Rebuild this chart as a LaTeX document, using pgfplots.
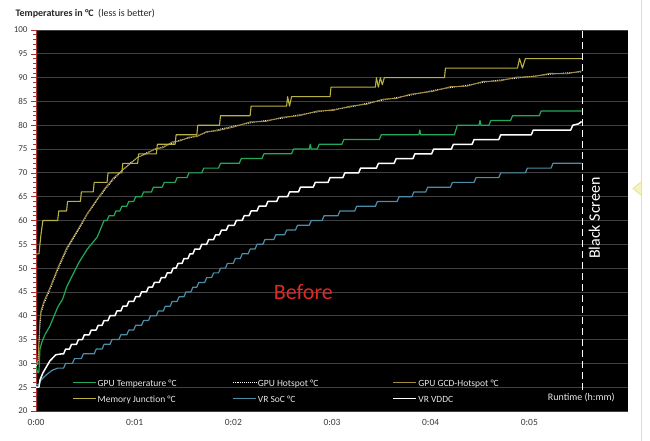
\documentclass[border=0pt]{standalone}
\usepackage{fontspec}
\setmainfont{Carlito}
\usepackage{pgfplots}
\pgfplotsset{compat=1.18}
\definecolor{gputemp}{RGB}{34,170,90}
\definecolor{gcdhot}{RGB}{165,140,60}
\definecolor{memjunc}{RGB}{185,178,65}
\definecolor{vrsoc}{RGB}{78,140,168}
\definecolor{gridc}{RGB}{64,64,64}
\definecolor{axisred}{RGB}{170,50,50}
\definecolor{axispink}{RGB}{225,120,120}
\definecolor{legtext}{RGB}{232,232,232}
\definecolor{tickc}{RGB}{60,60,60}
\definecolor{selyellow}{RGB}{238,228,130}
\definecolor{beforered}{RGB}{225,40,40}
\begin{document}
\begin{tikzpicture}[x=1pt,y=1pt]
\fill[white] (0,0) rectangle (650,441);
\path[use as bounding box] (0,0) rectangle (650,441);
\begin{axis}[
  at={(36pt,30pt)}, anchor=south west,
  scale only axis, width=592pt, height=381pt,
  xmin=0, xmax=6, ymin=20, ymax=100,
  axis background/.style={fill=black},
  axis x line*=bottom, axis y line*=left,
  x axis line style={draw=none},
  y axis line style={draw=axisred, line width=0.8pt, -},
  xtick={0,1,2,3,4,5},
  xticklabels={0:00,0:01,0:02,0:03,0:04,0:05},
  xtick style={draw=none},
  ytick={20,25,...,100},
  minor y tick num=4,
  tick align=outside,
  major tick length=5pt, minor tick length=3pt,
  ytick style={draw=axisred, line width=0.6pt},
  minor tick style={draw=axispink, line width=0.6pt},
  ymajorgrids, grid style={draw=gridc, line width=0.8pt},
  tick label style={text=tickc},
  yticklabel style={font=\fontsize{9}{10}\selectfont},
  xticklabel style={font=\fontsize{9.5}{10}\selectfont},
  /pgf/number format/assume math mode=true,
  legend columns=3,
  legend cell align=left,
  legend image code/.code={\draw[#1] (0pt,0pt) -- (23pt,0pt);},
  legend style={at={(0.0608,0.014)}, anchor=south west, draw=none, fill=none,
    inner sep=0pt, outer sep=0pt, row sep=2pt,
    font=\fontsize{9.5}{14}\selectfont,
    nodes={text=legtext, inner sep=1.5pt},
    /tikz/every odd column/.append style={column sep=0pt},
    /tikz/every even column/.append style={column sep=0pt}},
  clip=true,
  line join=round,
]
% GPU Temperature
\addplot[gputemp, line width=1.2pt] coordinates {
(0,29.5)(0.01,28.5)(0.02,28)(0.03,28.3)(0.04,33)(0.06,34.5)(0.09,36)(0.14,37.8)(0.22,41.8)(0.27,43.5)(0.31,46)(0.37,48.5)(0.43,51)(0.52,54)(0.62,56.5)(0.65,58)(0.67,59)(0.69,60)
(0.72,60)(0.74,61)(0.79,61)(0.81,62)(0.85,62)(0.87,63)(0.92,63)(0.94,64)(0.99,64)(1.01,65)
(1.07,65)(1.09,66)(1.17,66)(1.19,67)(1.28,67)(1.30,68)(1.41,68)(1.43,69)(1.53,69)(1.55,70)
(1.68,70)(1.70,71)(1.85,71)(1.87,72)(2.06,72)(2.08,73)(2.29,73)(2.31,74)(2.59,74)(2.61,75)
(2.77,75)(2.78,76)(2.79,75)(2.85,75)(2.87,76)(3.10,76)(3.12,77)(3.48,77)(3.50,78)
(3.88,78)(3.89,79)(3.90,78)(4.24,78)(4.27,80)(4.49,80)(4.50,81)(4.51,80)(4.59,80)(4.61,81)
(4.81,81)(4.83,82)(5.10,82)(5.12,83)(5.53,83)};
\addlegendentry{\makebox[133pt][l]{\strut GPU Temperature °C}}
% GPU Hotspot
\addplot[white, densely dotted, line width=0.9pt] coordinates {
(0,29.5)(0.02,30)(0.04,38)(0.05,40.5)(0.08,42.5)(0.14,45.4)(0.22,49.6)(0.31,53.8)(0.43,58)(0.52,61.3)(0.62,64.3)(0.70,66.5)(0.78,68.5)(0.87,70.4)(0.95,72)(1.03,73.2)(1.12,74.2)(1.20,74.9)(1.29,75.5)(1.38,76.2)(1.46,76.9)(1.55,77.3)(1.63,77.8)(1.73,78.5)(1.83,79)(2.00,79.8)(2.17,80.5)(2.33,81)(2.50,81.5)(2.67,82.2)(2.85,82.8)(3.01,83.3)(3.18,83.8)(3.35,84.6)(3.52,85.3)(3.65,85.8)(3.79,86.3)(4.02,87.3)(4.20,87.9)(4.37,88.4)(4.53,89)(4.70,89.5)(4.87,89.9)(5.04,90.3)(5.21,90.7)(5.38,91)(5.53,91.2)};
\addlegendentry{\makebox[133pt][l]{\strut GPU Hotspot °C}}
% GPU GCD-Hotspot
\addplot[gcdhot, line width=0.9pt] coordinates {
(0,30)(0.02,30.5)(0.04,39)(0.05,41)(0.08,43)(0.14,45.8)(0.22,50)(0.31,54.2)(0.43,58.3)(0.52,61.5)(0.62,64.5)(0.70,66.8)(0.78,68.8)(0.87,70.5)(0.95,71.8)(1.03,73.3)(1.12,74)(1.20,75)(1.29,75.3)(1.38,76.5)(1.46,76.7)(1.55,77.5)(1.63,77.6)(1.73,78.7)(1.83,78.8)(2.00,79.6)(2.17,80.7)(2.33,80.8)(2.50,81.7)(2.67,82)(2.85,83)(3.01,83.1)(3.18,84)(3.35,84.4)(3.52,85.5)(3.65,85.6)(3.79,86.5)(4.02,87.1)(4.20,88.1)(4.37,88.2)(4.53,89.2)(4.70,89.3)(4.87,90.1)(5.04,90.2)(5.21,90.9)(5.38,90.8)(5.53,91.4)};
\addlegendentry{\strut GPU GCD-Hotspot °C}
% Memory Junction
\addplot[memjunc, line width=1.1pt] coordinates {
(0,53)(0.03,53)(0.05,57)(0.07,60)(0.22,60)(0.23,62)(0.31,62)(0.32,64)(0.45,64)(0.46,66)
(0.58,66)(0.59,68)(0.72,68)(0.73,70)(0.87,70)(0.88,72)(1.03,72)(1.04,74)(1.22,74)(1.23,76)
(1.41,76)(1.42,78)(1.63,78)(1.64,80)(1.86,80)(1.87,82)(2.17,82)(2.18,84)
(2.54,84)(2.55,86)(2.57,84)(2.59,86)(2.98,86)(2.99,88)
(3.44,88)(3.45,90)(3.47,88)(3.49,90)(3.51,88.5)(3.53,90)(4.14,90)(4.15,92)
(4.88,92)(4.90,94)(4.93,92)(4.96,94)(5.54,94)};
\addlegendentry{\makebox[133pt][l]{\strut Memory Junction °C}}
% VR SoC
\addplot[vrsoc, line width=1.2pt] coordinates {
(0,25.5)(0.03,25.5)(0.05,26.5)(0.10,27.5)(0.16,28.5)(0.22,29)
(0.28,29)(0.30,30)(0.37,30)(0.39,31)(0.46,31)(0.48,32)(0.59,32)(0.61,33)(0.67,33)(0.69,34)
(0.75,34)(0.77,35)(0.84,35)(0.86,36)(0.92,36)(0.94,37)(0.99,37)(1.01,38)(1.07,38)(1.09,39)
(1.14,39)(1.16,40)(1.22,40)(1.24,41)(1.29,41)(1.31,42)(1.36,42)(1.38,43)(1.43,43)(1.45,44)
(1.50,44)(1.52,45)(1.57,45)(1.59,46)(1.63,46)(1.65,47)(1.71,47)(1.73,48)(1.78,48)(1.80,49)
(1.85,49)(1.87,50)(1.92,50)(1.94,51)(2.00,51)(2.02,52)(2.07,52)(2.09,53)(2.15,53)(2.17,54)
(2.22,54)(2.24,55)(2.30,55)(2.32,56)(2.41,56)(2.43,57)(2.52,57)(2.54,58)(2.63,58)(2.65,59)
(2.77,59)(2.79,60)(2.90,60)(2.92,61)(3.06,61)(3.08,62)(3.23,62)(3.25,63)(3.44,63)(3.46,64)
(3.66,64)(3.68,65)(3.81,65)(3.83,66)(3.95,66)(3.97,67)(4.20,67)(4.22,68)(4.44,68)(4.46,69)
(4.69,69)(4.71,70)(4.96,70)(4.98,71)(5.22,71)(5.24,72)(5.53,72)};
\addlegendentry{\makebox[133pt][l]{\strut VR SoC °C}}
% VR VDDC
\addplot[white, line width=1.5pt] coordinates {
(0,25)(0.03,25)(0.04,26.5)(0.07,28)(0.14,30.5)(0.20,31.8)(0.26,32)
(0.28,32)(0.30,33)(0.34,33)(0.36,34)(0.41,34)(0.43,35)(0.47,35)(0.49,36)(0.54,36)(0.56,37)
(0.61,37)(0.63,38)(0.67,38)(0.69,39)(0.73,39)(0.75,40)(0.80,40)(0.82,41)(0.86,41)(0.88,42)
(0.92,42)(0.94,43)(0.99,43)(1.01,44)(1.05,44)(1.07,45)(1.12,45)(1.14,46)(1.18,46)(1.20,47)
(1.25,47)(1.27,48)(1.31,48)(1.33,49)(1.37,49)(1.39,50)(1.42,50)(1.44,51)(1.48,51)(1.50,52)
(1.54,52)(1.56,53)(1.59,53)(1.61,54)(1.66,54)(1.68,55)(1.73,55)(1.75,56)(1.80,56)(1.82,57)
(1.86,57)(1.88,58)(1.93,58)(1.95,59)(2.01,59)(2.03,60)(2.09,60)(2.11,61)(2.16,61)(2.18,62)
(2.24,62)(2.26,63)(2.33,63)(2.35,64)(2.44,64)(2.46,65)(2.55,65)(2.57,66)(2.66,66)(2.68,67)
(2.81,67)(2.83,68)(2.96,68)(2.98,69)(3.11,69)(3.13,70)(3.27,70)(3.29,71)(3.45,71)(3.47,72)
(3.63,72)(3.65,73)(3.82,73)(3.84,74)(4.01,74)(4.03,75)(4.21,75)(4.23,76)(4.42,76)(4.44,77)
(4.69,77)(4.71,78)(5.02,78)(5.04,79)(5.42,79)(5.44,80)(5.50,80.3)(5.53,80.8)};
\addlegendentry{\strut VR VDDC}
% Black screen marker
\addplot[white, line width=1.3pt, dash pattern=on 7pt off 4pt, forget plot] coordinates {(5.54,24.4)(5.54,100)};
\node[text=beforered, font=\fontsize{22}{24}\selectfont] at (axis cs:2.71,45) {Before};
\node[text=white, rotate=90, font=\fontsize{16}{18}\selectfont] at (axis cs:5.66,60.5) {Black Screen};
\node[text=legtext, anchor=east, font=\fontsize{10}{12}\selectfont] at (axis cs:5.90,22.9) {Runtime (h:mm)};
\end{axis}
\node[anchor=base west, text=black!85, font=\fontsize{10}{12}\selectfont] at (12,424) {\textbf{Temperatures in °C}\ \ (less is better)};
\draw[selyellow, line width=1pt] (641,0) -- (641,441);
\filldraw[draw=selyellow, fill=selyellow!50!white, line width=0.8pt] (641,259) -- (633,252.5) -- (641,246);
\end{tikzpicture}
\end{document}
